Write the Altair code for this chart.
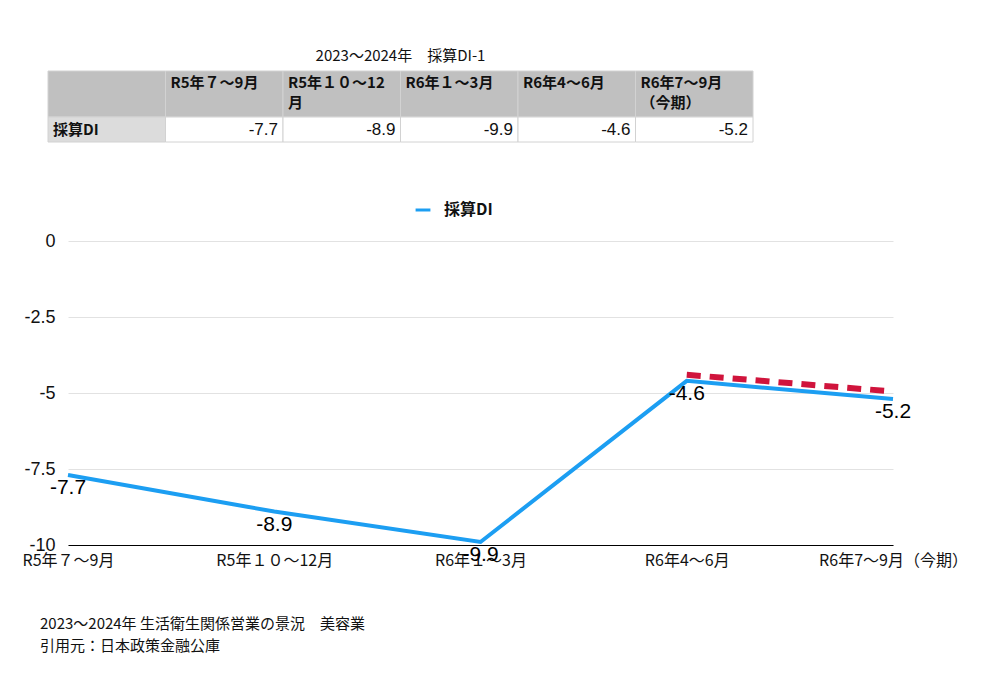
import altair as alt
import pandas as pd

# ---------------- data ----------------
periods = ["R5年７～9月", "R5年１０～12月", "R6年１～3月", "R6年4～6月", "R6年7～9月（今期）"]
di_values = [-7.7, -8.9, -9.9, -4.6, -5.2]
series_name = "採算DI"

dashed_periods = ["R6年4～6月", "R6年7～9月（今期）"]
dashed_values = [-4.4, -4.95]

y_ticks = [0, -2.5, -5, -7.5, -10]

table_title = "2023～2024年　採算DI-1"
table_headers = ["", "R5年７～9月", "R5年１０～12\n月", "R6年１～3月", "R6年4～6月", "R6年7～9月\n（今期）"]
table_row_label = "採算DI"
table_values = ["-7.7", "-8.9", "-9.9", "-4.6", "-5.2"]

footnotes = ["2023～2024年 生活衛生関係営業の景況　美容業", "引用元：日本政策金融公庫"]

# ---------------- styles ----------------
FONT = "Noto Sans CJK JP"
NUMFONT = "Liberation Sans"
BLUE = "#1c9ef2"
RED = "#d0143c"
W, H = 825, 304
PAD = {"left": 68, "top": 241, "right": 107, "bottom": 146}

# ---------------- main line chart ----------------
df = pd.DataFrame({
    "period": periods,
    "value": di_values,
    "series": series_name,
    "label": [str(v) for v in di_values],
})
df_dash = pd.DataFrame({"period": dashed_periods, "value": dashed_values})

x_scale = alt.Scale(type="point", domain=periods, padding=0)
y_scale = alt.Scale(domain=[-10, 0], nice=False, zero=False)

x_enc = alt.X(
    "period:N",
    scale=x_scale,
    sort=periods,
    title=None,
    axis=alt.Axis(
        labelAngle=0, ticks=False, grid=False, domain=True, domainColor="#000000",
        domainWidth=1, labelFont=FONT, labelFontSize=16, labelColor="#111111",
        labelPadding=7, labelOverlap=False,
    ),
)
y_enc = alt.Y(
    "value:Q",
    scale=y_scale,
    title=None,
    axis=alt.Axis(
        values=y_ticks, labelExpr="'' + datum.value", grid=True, gridColor="#e2e2e2",
        gridWidth=1, domain=False, ticks=False, labelFont=NUMFONT, labelFontSize=18,
        labelColor="#111111", labelPadding=13,
    ),
)

line = alt.Chart(df).mark_line(strokeWidth=4).encode(
    x=x_enc,
    y=y_enc,
    color=alt.Color(
        "series:N",
        scale=alt.Scale(domain=[series_name], range=[BLUE]),
        legend=alt.Legend(
            orient="none", legendX=346, legendY=-40, title=None, direction="horizontal",
            symbolType="stroke", symbolStrokeWidth=3, symbolSize=220,
            labelFont=FONT, labelFontSize=16, labelFontWeight="bold", labelColor="#111111",
            labelOffset=12,
        ),
    ),
)

dashed = alt.Chart(df_dash).mark_line(strokeWidth=6, color=RED, strokeDash=[14, 9]).encode(
    x=alt.X("period:N", scale=x_scale, sort=periods),
    y=alt.Y("value:Q", scale=y_scale),
)

labels = alt.Chart(df).mark_text(
    font=NUMFONT, fontSize=21, color="#000000", dy=13, baseline="middle", align="center"
).encode(
    x=alt.X("period:N", scale=x_scale, sort=periods),
    y=alt.Y("value:Q", scale=y_scale),
    text="label:N",
)

main = alt.layer(line, dashed, labels)

# ---------------- table ----------------
n_cols = len(table_headers)
HEADER_H = 46
ROW_H = 25
TABLE_LEFT, TABLE_RIGHT, TABLE_TOP = 48, 753, 71

cells = []
for i, h in enumerate(table_headers):
    cells.append({"c0": i, "c1": i + 1, "r0": 0, "r1": HEADER_H, "fill": "#c0c0c0"})
cells.append({"c0": 0, "c1": 1, "r0": HEADER_H, "r1": HEADER_H + ROW_H, "fill": "#dcdcdc"})
for i, v in enumerate(table_values):
    cells.append({"c0": i + 1, "c1": i + 2, "r0": HEADER_H, "r1": HEADER_H + ROW_H, "fill": "#ffffff"})
cells_df = pd.DataFrame(cells)

tx_scale = alt.Scale(domain=[0, n_cols], range=[TABLE_LEFT - PAD["left"], TABLE_RIGHT - PAD["left"]], zero=False, nice=False)
ty_scale = alt.Scale(domain=[0, HEADER_H + ROW_H],
                     range=[TABLE_TOP - PAD["top"], TABLE_TOP + HEADER_H + ROW_H - PAD["top"]],
                     zero=False, nice=False)

rects = alt.Chart(cells_df).mark_rect(stroke="#d2d2d2", strokeWidth=1).encode(
    x=alt.X("c0:Q", scale=tx_scale, axis=None),
    x2="c1:Q",
    y=alt.Y("r0:Q", scale=ty_scale, axis=None),
    y2="r1:Q",
    fill=alt.Fill("fill:N", scale=None),
)

hdr_df = pd.DataFrame({"c": list(range(n_cols)), "r": 0, "t": table_headers})
hdr_text = alt.Chart(hdr_df).mark_text(
    font=FONT, fontSize=15, fontWeight="bold", color="#111111", align="left",
    baseline="top", dx=5, dy=5, lineBreak="\n", lineHeight=20,
).encode(
    x=alt.X("c:Q", scale=tx_scale, axis=None),
    y=alt.Y("r:Q", scale=ty_scale, axis=None),
    text="t:N",
)

rowlab_df = pd.DataFrame({"c": [0], "r": [HEADER_H + ROW_H / 2], "t": [table_row_label]})
rowlab_text = alt.Chart(rowlab_df).mark_text(
    font=FONT, fontSize=15, fontWeight="bold", color="#111111", align="left",
    baseline="middle", dx=5,
).encode(
    x=alt.X("c:Q", scale=tx_scale, axis=None),
    y=alt.Y("r:Q", scale=ty_scale, axis=None),
    text="t:N",
)

val_df = pd.DataFrame({"c": [i + 2 for i in range(len(table_values))],
                       "r": HEADER_H + ROW_H / 2, "t": table_values})
val_text = alt.Chart(val_df).mark_text(
    font=NUMFONT, fontSize=17, color="#111111", align="right", baseline="middle", dx=-5,
).encode(
    x=alt.X("c:Q", scale=tx_scale, axis=None),
    y=alt.Y("r:Q", scale=ty_scale, axis=None),
    text="t:N",
)

ttl_df = pd.DataFrame({"c": [n_cols / 2], "r": [-15], "t": [table_title]})
ttl_text = alt.Chart(ttl_df).mark_text(
    font=FONT, fontSize=15, color="#111111", align="center", baseline="middle",
).encode(
    x=alt.X("c:Q", scale=tx_scale, axis=None),
    y=alt.Y("r:Q", scale=ty_scale, axis=None),
    text="t:N",
)

table = alt.layer(rects, hdr_text, rowlab_text, val_text, ttl_text)

chart = alt.layer(main, table).resolve_scale(x="independent", y="independent").properties(
    width=W,
    height=H,
    padding=PAD,
    autosize=alt.AutoSizeParams(type="none"),
    view=alt.ViewBackground(strokeWidth=0, stroke="transparent"),
    title=alt.TitleParams(
        text=footnotes, orient="bottom", anchor="start", frame="group", dx=-28, offset=49,
        font=FONT, fontSize=15, fontWeight="normal", color="#111111", lineHeight=22,
    ),
).configure_view(strokeWidth=0, stroke="transparent").configure(background="#ffffff")

chart.save("out.html", embed_options={"renderer": "svg", "actions": False})
